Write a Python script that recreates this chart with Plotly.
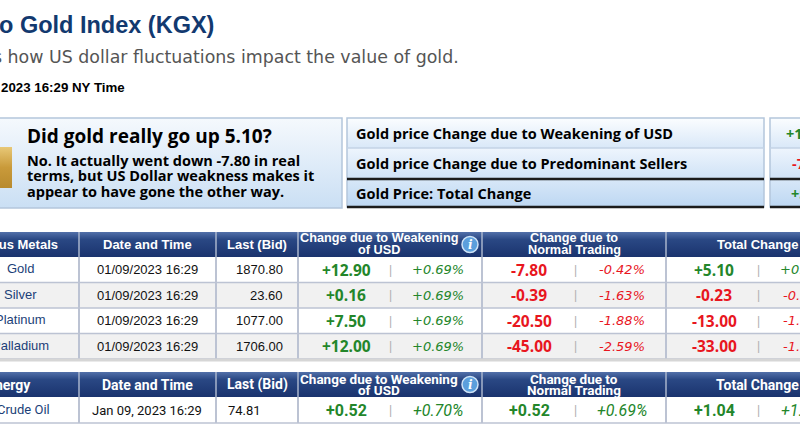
"""Kitco Gold Index (KGX) page snapshot redrawn with plotly shapes and text"""

import plotly.graph_objects as go

# ---- data ----
summary_question = "Did gold really go up 5.10?"
summary_answer = [
    "No. It actually went down -7.80 in real",
    "terms, but US Dollar weakness makes it",
    "appear to have gone the other way.",
]
summary_labels = [
    "Gold price Change due to Weakening of USD",
    "Gold price Change due to Predominant Sellers",
    "Gold Price: Total Change",
]
summary_values = [12.90, -7.80, 5.10]

metals = ["Gold", "Silver", "Platinum", "Palladium"]
metal_dates = ["01/09/2023 16:29", "01/09/2023 16:29", "01/09/2023 16:29", "01/09/2023 16:29"]
metal_bid = ["1870.80", "23.60", "1077.00", "1706.00"]
metal_usd = [12.90, 0.16, 7.50, 12.00]
metal_usd_pct = [0.69, 0.69, 0.69, 0.69]
metal_trade = [-7.80, -0.39, -20.50, -45.00]
metal_trade_pct = [-0.42, -1.63, -1.88, -2.59]
metal_total = [5.10, -0.23, -13.00, -33.00]
metal_total_pct = [0.27, -0.97, -1.19, -1.90]

energy = ["Crude Oil"]
energy_dates = ["Jan 09, 2023 16:29"]
energy_bid = ["74.81"]
energy_usd = [0.52]
energy_usd_pct = [0.70]
energy_trade = [0.52]
energy_trade_pct = [0.69]
energy_total = [1.04]
energy_total_pct = [1.41]

# ---- layout constants (page pixels) ----
W, H = 800, 439
COLS = [-60, 79, 216, 298, 482, 666, 860]
GREEN = "#23862a"
RED = "#e8161e"
NAVY = "#12396f"
GRID = "#bcc3d3"
ARIAL = "Liberation Sans, Arial, sans-serif"
NARROW = "Roboto, Liberation Sans, sans-serif"
TAHOMA = "Open Sans, Tahoma, sans-serif"
VERDANA = "DejaVu Sans, Verdana, sans-serif"

fig = go.Figure()


def text(x, y, s, size, color="#000", family=ARIAL, anchor="center", weight="normal", style="normal"):
    # paper refs so that texts running past the left edge are still drawn (and clipped)
    fig.add_annotation(
        x=x / W, y=1 - y / H, xref="paper", yref="paper", text=s, showarrow=False,
        xanchor=anchor, yanchor="middle",
        font=dict(size=size, color=color, family=family, weight=weight, style=style),
    )


def rect(x0, x1, y0, y1, fill=None, line=None, width=1, layer="below"):
    fig.add_shape(
        type="rect", x0=x0, x1=x1, y0=y0, y1=y1, layer=layer,
        fillcolor=fill if fill else "rgba(0,0,0,0)",
        line=dict(color=line if line else "rgba(0,0,0,0)", width=width if line else 0),
    )


def hline(x0, x1, y, color, width=1):
    fig.add_shape(type="line", x0=x0, x1=x1, y0=y, y1=y, layer="above", line=dict(color=color, width=width))


def vline(x, y0, y1, color, width=1):
    fig.add_shape(type="line", x0=x, x1=x, y0=y0, y1=y1, layer="above", line=dict(color=color, width=width))


def grad(x0, x1, y0, y1, scale):
    fig.add_trace(go.Scatter(
        x=[x0, x1, x1, x0, x0], y=[y0, y0, y1, y1, y0], mode="lines",
        line=dict(width=0), fill="toself",
        fillgradient=dict(type="vertical", colorscale=scale, start=y0, stop=y1),
        hoverinfo="skip", showlegend=False,
    ))


def signed(v):
    return f"{v:+.2f}"


def col(v):
    return GREEN if v >= 0 else RED


# ---- page heading ----
text(-3, 25, "o Gold Index (KGX)", 23.5, NAVY, ARIAL, "left", "bold")
text(-9, 57, "s how US dollar fluctuations impact the value of gold.", 17.4, "#555555", VERDANA, "left")
text(-1, 87, "2023 16:29 NY Time", 13.3, "#000000", ARIAL, "left", "bold")

# ---- summary box (question) ----
grad(-2, 342, 118, 208, [[0, "#f5f9fd"], [1, "#cadff4"]])
rect(-2, 342, 118, 208, line="#b4c6dc", width=1.5, layer="above")
grad(-2, 12, 147, 188, [[0, "#e8c877"], [0.5, "#c99a3a"], [1, "#b88a2e"]])
text(25, 136, summary_question, 19, "#000", TAHOMA, "left", "bold")
for i, s in enumerate(summary_answer):
    text(25, 160 + i * 15.5, s, 14.5, "#000", TAHOMA, "left", "bold")

# ---- summary box (breakdown) ----
row_y = [118, 148, 179, 207]
row_scales = [
    [[0, "#fbfdff"], [1, "#d9e8f8"]],
    [[0, "#eef5fd"], [1, "#cfe2f6"]],
    [[0, "#d8e8f8"], [1, "#bdd7f2"]],
]
for x0, x1 in [(347, 764), (770, 860)]:
    for i in range(3):
        grad(x0, x1, row_y[i], row_y[i + 1], row_scales[i])
    rect(x0, x1, row_y[0], row_y[3], line="#b4c6dc", width=1.5, layer="above")
    hline(x0, x1, row_y[1], "#c3d3e6", 1.5)
    hline(x0, x1, row_y[2], "#1b1b1b", 2.5)
    hline(x0, x1, row_y[3], "#1b1b1b", 2.5)
for i, (lab, v) in enumerate(zip(summary_labels, summary_values)):
    yc = (row_y[i] + row_y[i + 1]) / 2
    text(354, yc, lab, 14.5, "#000", TAHOMA, "left", "bold")
    text(809, yc, signed(v), 14.5, col(v), TAHOMA, "center", "bold")


# ---- quote tables ----
def header(top, h, first, first_x, family, size, two_size):
    grad(COLS[0], COLS[-1], top, top + h, [[0, "#5270a9"], [0.3, "#2a4884"], [1, "#1a336e"]])
    for x in COLS[1:-1]:
        vline(x, top, top + h, "#a9b4cc", 1.5)
    yc = top + h / 2
    text(first_x, yc, first, size, "white", family, "right", "bold")
    text(147, yc, "Date and Time", size, "white", family, "center", "bold")
    text(257, yc, "Last (Bid)", size, "white", family, "center", "bold")
    text(379, yc - 6, "Change due to Weakening", two_size, "white", family, "center", "bold")
    text(379, yc + 5.5, "of USD", two_size, "white", family, "center", "bold")
    fig.add_shape(type="circle", x0=462, x1=478, y0=yc - 8, y1=yc + 8, layer="above",
                  fillcolor="#5b9fdc", line=dict(color="#cfe3f6", width=1.5))
    text(470, yc, "<i>i</i>", 12, "white", "DejaVu Serif, serif", "center", "bold")
    text(574, yc - 6, "Change due to", two_size, "white", family, "center", "bold")
    text(574, yc + 5.5, "Normal Trading", two_size, "white", family, "center", "bold")
    text(757, yc, "Total Change", size, "white", family, "center", "bold")


def body(top, rh, names, dates, bids, usd, usd_p, trade, trade_p, total, total_p,
         family, vfamily, vsize, pfamily, psize, text_size, name_x, bid_x):
    n = len(names)
    for r in range(n):
        y0 = top + r * rh
        rect(COLS[0], COLS[-1], y0, y0 + rh, fill="#ffffff" if r % 2 == 0 else "#f1f1f1")
        yc = y0 + rh / 2
        text(name_x, yc - 1, names[r], text_size, "#1c3f78", family, "center")
        text(147, yc, dates[r], text_size, "#111", family, "center")
        text(bid_x, yc, bids[r], text_size, "#111", family, "right")
        cells = [(346, 390, 438, usd[r], usd_p[r]),
                 (529, 575, 622, trade[r], trade_p[r]),
                 (714, 758, 806, total[r], total_p[r])]
        for vx, sx, px, v, p in cells:
            text(vx, yc, signed(v), vsize, col(v), vfamily, "center", "bold")
            text(sx, yc, "|", 12, "#b0b0b0", ARIAL, "center")
            text(px, yc, signed(p) + "%", psize, col(p), pfamily, "center", style="italic")
        hline(COLS[0], COLS[-1], y0 + rh, GRID, 1.5)
    for x in COLS[1:-1]:
        vline(x, top, top + n * rh, GRID, 2)


header(232, 25, "Precious Metals", 60, ARIAL, 13, 12.7)
body(257, 25.5, metals, metal_dates, metal_bid, metal_usd, metal_usd_pct,
     metal_trade, metal_trade_pct, metal_total, metal_total_pct,
     ARIAL, TAHOMA, 15.5, VERDANA, 13, 13, 20, 285)
hline(COLS[0], COLS[-1], 360, "#d6d6d6", 3)

header(372, 25, "Energy", 33, NARROW, 14, 13.5)
body(397, 26, energy, energy_dates, energy_bid, energy_usd, energy_usd_pct,
     energy_trade, energy_trade_pct, energy_total, energy_total_pct,
     NARROW, NARROW, 16, NARROW, 16, 13, 23, 263)

fig.update_xaxes(range=[0, W], visible=False, fixedrange=True)
fig.update_yaxes(range=[H, 0], visible=False, fixedrange=True)
fig.update_layout(
    width=W, height=H, margin=dict(l=0, r=0, t=0, b=0, pad=0),
    paper_bgcolor="white", plot_bgcolor="white", showlegend=False,
)
# the browser's default 8px body margin would shift the page snapshot
fig.write_html("out.html", config={"displayModeBar": False},
               post_script="document.body.style.margin='0';")
